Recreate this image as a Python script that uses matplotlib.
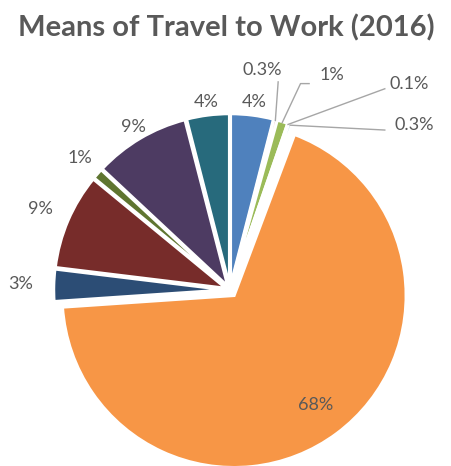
import numpy as np
import matplotlib
matplotlib.use("Agg")
import matplotlib.pyplot as plt

# Data
values = [4, 0.3, 1, 0.1, 0.3, 68, 3, 9, 1, 9, 4]
labels = ["4%", "0.3%", "1%", "0.1%", "0.3%", "68%", "3%", "9%", "1%", "9%", "4%"]
colors = ["#4F81BD", "#C0504D", "#9BBB59", "#8064A2", "#4BACC6", "#F79646",
          "#2C4D75", "#772C2A", "#5F7530", "#4D3B62", "#276A7C"]
title = "Means of Travel to Work (2016)"

# Layout
W, H = 452, 466
cx, cy, R = 230, 290, 172  # pixel centre and radius
fig = plt.figure(figsize=(W / 100, H / 100), dpi=100)
ax = fig.add_axes([0, 0, 1, 1])

explode = [0.025] * len(values)
explode[5] = 0.04
wedges, _ = ax.pie(values, colors=colors, startangle=90, counterclock=False,
                   explode=explode, radius=1.0,
                   wedgeprops=dict(edgecolor="white", linewidth=2.2))
ax.set_aspect("auto")
ax.set_xlim(-cx / R, (W - cx) / R)
ax.set_ylim(-(H - cy) / R, cy / R)
ax.axis("off")

fig.text(0.5, 1 - 28 / H, title, ha="center", va="center", fontsize=21,
         fontweight="bold", color="#595959", family="Lato")

txt_kw = dict(fontsize=13, color="#595959", family="Lato", ha="center", va="center")
total = sum(values)
cum = np.cumsum([0] + values[:-1])
mid = [(c + v / 2) / total * 360 for c, v in zip(cum, values)]  # clockwise from top

def direction(a):
    r = np.deg2rad(a)
    return np.sin(r), np.cos(r)

# standard labels: index -> distance
dist = {0: 1.10, 5: 0.83, 6: 1.22, 7: 1.20, 8: 1.16, 9: 1.10, 10: 1.10}
for i, d in dist.items():
    dx, dy = direction(mid[i])
    ax.text(dx * d, dy * d, labels[i], **txt_kw)

# small slices with leader lines: index -> (text pos, leader path start)
line_kw = dict(color="#A6A6A6", lw=1.0)
small = {
    1: ((0.19, 1.28), [(0.28, 1.21)]),
    2: ((0.59, 1.25), [(0.46, 1.20), (0.41, 1.20)]),
    3: ((1.04, 1.20), [(0.90, 1.17)]),
    4: ((1.07, 0.96), [(0.90, 0.93)]),
}
for i, (tp, path) in small.items():
    ax.text(tp[0], tp[1], labels[i], **txt_kw)
    dx, dy = direction(mid[i])
    end = (dx * 1.02, dy * 1.02)
    pts = path + [end]
    ax.plot([p[0] for p in pts], [p[1] for p in pts], **line_kw)

fig.savefig("out.png", dpi=100, facecolor="white")
